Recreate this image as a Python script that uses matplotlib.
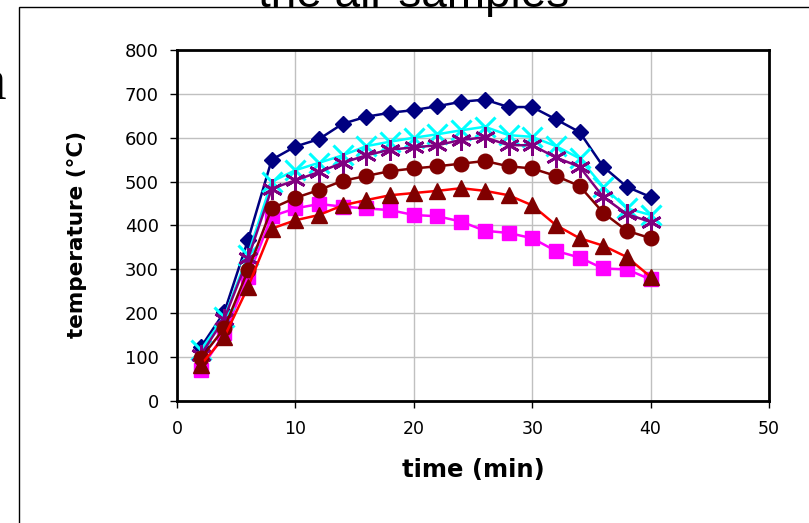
import matplotlib
matplotlib.use("Agg")
import matplotlib.pyplot as plt
from matplotlib.patches import Rectangle

# time (min)
time_min = [2, 4, 6, 8, 10, 12, 14, 16, 18, 20, 22, 24, 26, 28, 30, 32, 34, 36, 38, 40]

# temperature (°C), one list per sample
s_navy = [122, 203, 367, 550, 580, 597, 632, 648, 657, 663, 672, 682, 687, 670, 670, 642, 613, 534, 488, 465]
s_magenta = [71, 154, 283, 421, 439, 449, 443, 439, 435, 424, 421, 409, 388, 383, 371, 342, 327, 302, 300, 277]
s_cyan = [116, 192, 333, 500, 526, 543, 560, 581, 591, 600, 608, 617, 625, 606, 602, 581, 553, 488, 439, 424]
s_purple = [105, 188, 325, 484, 503, 522, 543, 560, 573, 578, 583, 595, 601, 583, 583, 555, 534, 465, 426, 408]
s_maroon = [97, 166, 298, 439, 463, 481, 502, 513, 524, 530, 535, 541, 547, 535, 530, 513, 490, 429, 388, 371]
s_tri = [82, 146, 260, 393, 412, 424, 446, 458, 469, 474, 479, 485, 479, 469, 446, 401, 371, 354, 328, 283]

x_ticks = [0, 10, 20, 30, 40, 50]
y_ticks = [0, 100, 200, 300, 400, 500, 600, 700, 800]

W, H = 809, 523
fig = plt.figure(figsize=(W / 100, H / 100), dpi=100)

# outer frame of the pasted chart
fig.patches.append(Rectangle((19 / W, -0.1), 1.2, 1.1 - 7 / H, transform=fig.transFigure,
                             fill=False, edgecolor="black", linewidth=1.0))
fig.text(414 / W, 1 - 7 / H, "the air samples", ha="center", va="baseline",
         fontsize=33, family="Liberation Sans")
fig.text(6 / W, 1 - 100 / H, "a", ha="right", va="baseline", fontsize=43,
         family="Liberation Serif")

ax = fig.add_axes([177 / W, 1 - 401 / H, (769 - 177) / W, (401 - 50) / H])

ax.plot(time_min, s_navy, color="#000080", lw=1.8, marker="D", ms=8.5, zorder=3)
ax.plot(time_min, s_magenta, color="#FF00FF", lw=1.8, marker="s", ms=10, zorder=3)
ax.plot(time_min, s_cyan, color="#00FFFF", lw=1.8, marker="x", ms=15, mew=2.2, zorder=3)
ax.plot(time_min, s_purple, color="#800080", lw=1.8, marker=(6, 2, 0), ms=15, mew=2.0, zorder=3)
ax.plot(time_min, s_maroon, color="#800000", lw=1.8, marker="o", ms=10.5, zorder=3)
ax.plot(time_min, s_tri, color="#FF0000", lw=1.8, marker="^", ms=11,
        mfc="#800000", mec="#800000", zorder=3)

ax.set_xlim(0, 50)
ax.set_ylim(0, 800)
ax.set_xticks(x_ticks)
ax.set_yticks(y_ticks)
ax.grid(True, color="#c0c0c0", linewidth=1.0)
ax.set_axisbelow(True)
for sp in ax.spines.values():
    sp.set_linewidth(2.0)
    sp.set_color("black")

ax.tick_params(axis="y", direction="out", length=5, width=1, pad=8, labelsize=13)
ax.tick_params(axis="x", direction="out", length=5, width=1, pad=9, labelsize=12.5)

ax.set_xlabel("time (min)", fontsize=17.5, fontweight="bold", labelpad=14)
fig.text(77 / W, 1 - 234 / H, "temperature (°C)", rotation=90, ha="center", va="center",
         fontsize=15.5, fontweight="bold")

fig.savefig("out.png", dpi=100)
